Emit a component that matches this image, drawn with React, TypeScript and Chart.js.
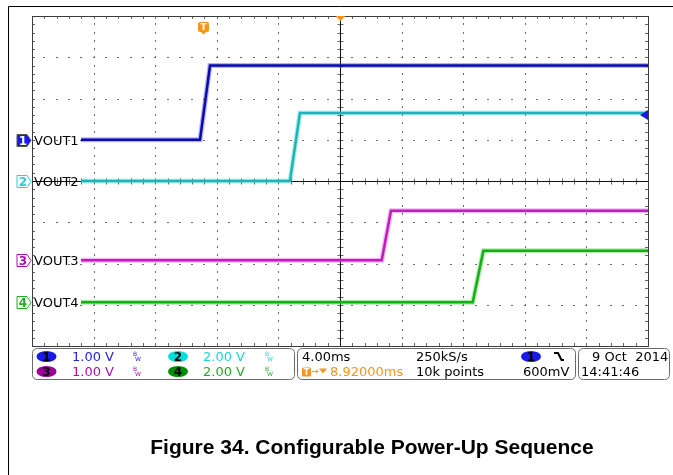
import React, { useEffect, useRef } from "react";
import { Chart, registerables } from "chart.js";

Chart.register(...registerables);

// ---- Data (time in ms, voltage in V) ----
const channelNames = ["VOUT1", "VOUT2", "VOUT3", "VOUT4"];
const traceColors = ["#0a0aae", "#1cb4b6", "#c01cc0", "#12b012"];
const traceHaloColors = ["rgba(40,40,200,0.35)", "rgba(40,200,200,0.35)", "rgba(210,60,210,0.35)", "rgba(40,190,40,0.35)"];
const voltsPerDiv = [1, 2, 1, 2];
const positionDiv = [5.0, 4.0, 2.08, 1.06];

const time1 = [3.18, 10.91, 11.56, 40];
const vout1 = [0, 0, 1.8, 1.8];
const time2 = [3.18, 16.75, 17.4, 40];
const vout2 = [0, 0, 3.3, 3.3];
const time3 = [3.18, 22.71, 23.31, 40];
const vout3 = [0, 0, 1.2, 1.2];
const time4 = [3.18, 28.62, 29.31, 40];
const vout4 = [0, 0, 2.5, 2.5];

const timePerDiv = 4; // ms/div
const divisionsX = 10;
const divisionsY = 8;
const triggerTimeMs = 11.08;
const triggerLevelV = 0.6;

const scaleLabels = ["1.00 V", "2.00 V", "1.00 V", "2.00 V"];
const badgeColors = ["#1a1ae6", "#00dede", "#9a009a", "#008c00"];
const scaleTextColors = ["#2323dd", "#1ed4d4", "#aa10aa", "#22ac22"];
const horizText = ["4.00ms", "250kS/s", "10k points", "600mV"];
const triggerDelayText = "8.92000ms";
const dateText = ["9 Oct  2014", "14:41:46"];
const titleText = "Figure 34. Configurable Power-Up Sequence";

const series = [
  { t: time1, v: vout1 },
  { t: time2, v: vout2 },
  { t: time3, v: vout3 },
  { t: time4, v: vout4 },
];

const FONT = '"DejaVu Sans", sans-serif';

function roundRect(ctx: CanvasRenderingContext2D, x: number, y: number, w: number, h: number, r: number) {
  ctx.beginPath();
  ctx.moveTo(x + r, y);
  ctx.lineTo(x + w - r, y);
  ctx.quadraticCurveTo(x + w, y, x + w, y + r);
  ctx.lineTo(x + w, y + h - r);
  ctx.quadraticCurveTo(x + w, y + h, x + w - r, y + h);
  ctx.lineTo(x + r, y + h);
  ctx.quadraticCurveTo(x, y + h, x, y + h - r);
  ctx.lineTo(x, y + r);
  ctx.quadraticCurveTo(x, y, x + r, y);
  ctx.closePath();
}

const graticule = {
  id: "graticule",
  beforeDatasetsDraw(chart: any) {
    const { ctx, chartArea: a, scales } = chart;
    const x = scales.x;
    const y = scales.y;
    ctx.save();
    // outer page frame
    ctx.strokeStyle = "#000";
    ctx.lineWidth = 1;
    ctx.beginPath();
    ctx.moveTo(8.5, 475);
    ctx.lineTo(8.5, 6.5);
    ctx.lineTo(673, 6.5);
    ctx.stroke();

    // dotted graticule
    ctx.fillStyle = "#6e6e6e";
    for (let i = 1; i < divisionsX; i++) {
      if (i === divisionsX / 2) continue;
      const px = Math.round(x.getPixelForValue(i * timePerDiv));
      for (let k = 1; k < divisionsY * 5; k++) {
        const py = Math.round(y.getPixelForValue(k / 5));
        ctx.fillRect(px, py - 1, 1, 2);
      }
    }
    for (let j = 1; j < divisionsY; j++) {
      if (j === divisionsY / 2) continue;
      const py = Math.round(y.getPixelForValue(j));
      for (let k = 1; k < divisionsX * 5; k++) {
        const px = Math.round(x.getPixelForValue((k * timePerDiv) / 5));
        ctx.fillRect(px - 1, py, 2, 1);
      }
    }

    // center crosshair ticks
    const cx = Math.round(x.getPixelForValue((divisionsX / 2) * timePerDiv)) + 0.5;
    const cy = Math.round(y.getPixelForValue(divisionsY / 2)) + 0.5;
    ctx.strokeStyle = "#666";
    ctx.beginPath();
    for (let k = 1; k < divisionsX * 5; k++) {
      const px = Math.round(x.getPixelForValue((k * timePerDiv) / 5)) + 0.5;
      ctx.moveTo(px, cy - 3);
      ctx.lineTo(px, cy + 3);
      ctx.moveTo(px, a.top);
      ctx.lineTo(px, a.top + 3);
      ctx.moveTo(px, a.bottom);
      ctx.lineTo(px, a.bottom - 3);
    }
    for (let k = 1; k < divisionsY * 5; k++) {
      const py = Math.round(y.getPixelForValue(k / 5)) + 0.5;
      ctx.moveTo(cx - 3, py);
      ctx.lineTo(cx + 3, py);
      ctx.moveTo(a.left, py);
      ctx.lineTo(a.left + 3, py);
      ctx.moveTo(a.right, py);
      ctx.lineTo(a.right - 3, py);
    }
    ctx.stroke();

    // crosshair lines
    ctx.strokeStyle = "#111";
    ctx.beginPath();
    ctx.moveTo(cx, a.top);
    ctx.lineTo(cx, a.bottom);
    ctx.moveTo(a.left, cy);
    ctx.lineTo(a.right, cy);
    ctx.stroke();

    // border
    ctx.strokeStyle = "#3c3c3c";
    ctx.strokeRect(Math.round(a.left) + 0.5, Math.round(a.top) + 0.5, Math.round(a.right - a.left), Math.round(a.bottom - a.top));
    ctx.restore();
  },
  afterDatasetsDraw(chart: any) {
    const { ctx, chartArea: a, scales } = chart;
    const x = scales.x;
    const y = scales.y;
    ctx.save();

    // channel markers and labels
    for (let i = 0; i < channelNames.length; i++) {
      const cy = Math.round(y.getPixelForValue(positionDiv[i])) + 0.5;
      ctx.beginPath();
      ctx.moveTo(17, cy - 6);
      ctx.lineTo(27, cy - 6);
      ctx.lineTo(31, cy);
      ctx.lineTo(27, cy + 6);
      ctx.lineTo(17, cy + 6);
      ctx.closePath();
      ctx.lineWidth = 1;
      if (i === 0) {
        ctx.fillStyle = badgeColors[0];
        ctx.fill();
        ctx.strokeStyle = "#555";
        ctx.stroke();
      } else {
        ctx.fillStyle = "#fff";
        ctx.fill();
        ctx.strokeStyle = scaleTextColors[i];
        ctx.stroke();
      }
      ctx.font = `bold 12px ${FONT}`;
      ctx.textAlign = "center";
      ctx.textBaseline = "middle";
      ctx.fillStyle = i === 0 ? "#fff" : scaleTextColors[i];
      ctx.fillText(String(i + 1), 23, cy + 1);
      ctx.font = `13px ${FONT}`;
      ctx.textAlign = "left";
      ctx.fillStyle = "#000";
      ctx.fillText(channelNames[i], 34, cy + 1);
    }

    // trigger position marker
    const tx = Math.round(x.getPixelForValue(triggerTimeMs));
    ctx.fillStyle = "#f7941d";
    roundRect(ctx, tx - 5, 22, 11, 10, 2);
    ctx.fill();
    ctx.beginPath();
    ctx.moveTo(tx - 2, 32);
    ctx.lineTo(tx + 3, 32);
    ctx.lineTo(tx + 0.5, 34.5);
    ctx.closePath();
    ctx.fill();
    ctx.fillStyle = "#fff";
    ctx.font = `bold 9px ${FONT}`;
    ctx.textAlign = "center";
    ctx.textBaseline = "middle";
    ctx.fillText("T", tx + 0.5, 27.5);

    // top center triangle
    const cxp = x.getPixelForValue((divisionsX / 2) * timePerDiv);
    ctx.fillStyle = "#f7941d";
    ctx.beginPath();
    ctx.moveTo(cxp - 4.5, a.top);
    ctx.lineTo(cxp + 5.5, a.top);
    ctx.lineTo(cxp + 0.5, a.top + 5);
    ctx.closePath();
    ctx.fill();

    // trigger level arrow on right edge
    const ly = y.getPixelForValue(positionDiv[0] + triggerLevelV / voltsPerDiv[0]);
    ctx.fillStyle = badgeColors[0];
    ctx.beginPath();
    ctx.moveTo(a.right, ly - 5);
    ctx.lineTo(a.right - 8, ly);
    ctx.lineTo(a.right, ly + 5);
    ctx.closePath();
    ctx.fill();

    // ---- bottom info panel ----
    ctx.strokeStyle = "#6a6a6a";
    ctx.lineWidth = 1;
    roundRect(ctx, 32.5, 348.5, 262, 31, 5);
    ctx.stroke();
    roundRect(ctx, 297.5, 348.5, 278, 31, 5);
    ctx.stroke();
    roundRect(ctx, 578.5, 348.5, 91, 31, 5);
    ctx.stroke();

    const rowY = [356.5, 371.5];
    const colBadge = [46.5, 178];
    const colText = [72, 203];
    const colBw = [133, 265];
    for (let i = 0; i < 4; i++) {
      const r = Math.floor(i / 2);
      const c = i % 2;
      const by = rowY[r];
      ctx.fillStyle = badgeColors[i];
      ctx.beginPath();
      ctx.ellipse(colBadge[c], by, 10, 5.5, 0, 0, Math.PI * 2);
      ctx.fill();
      ctx.fillStyle = "#000";
      ctx.font = `bold 12px ${FONT}`;
      ctx.textAlign = "center";
      ctx.textBaseline = "middle";
      ctx.fillText(String(i + 1), colBadge[c], by + 1);
      ctx.textAlign = "left";
      ctx.font = `13px ${FONT}`;
      ctx.fillStyle = scaleTextColors[i];
      ctx.fillText(scaleLabels[i], colText[c], by + 1);
      ctx.font = `6px ${FONT}`;
      ctx.fillText("B", colBw[c], by - 2);
      ctx.fillText("W", colBw[c] + 2, by + 3);
    }

    // middle box
    ctx.font = `13px ${FONT}`;
    ctx.textAlign = "left";
    ctx.textBaseline = "middle";
    ctx.fillStyle = "#000";
    ctx.fillText(horizText[0], 302, rowY[0] + 1);
    ctx.fillText(horizText[1], 416, rowY[0] + 1);
    ctx.fillText(horizText[2], 416, rowY[1] + 1);
    ctx.fillText(horizText[3], 523, rowY[1] + 1);
    // trigger source badge
    ctx.fillStyle = badgeColors[0];
    ctx.beginPath();
    ctx.ellipse(531, rowY[0], 10, 5.5, 0, 0, Math.PI * 2);
    ctx.fill();
    ctx.fillStyle = "#000";
    ctx.font = `bold 12px ${FONT}`;
    ctx.textAlign = "center";
    ctx.fillText("1", 531, rowY[0] + 1);
    // falling slope glyph
    ctx.strokeStyle = "#000";
    ctx.lineWidth = 2;
    ctx.beginPath();
    ctx.moveTo(554, 353);
    ctx.lineTo(558, 353);
    ctx.lineTo(561.5, 360);
    ctx.lineTo(564, 360);
    ctx.stroke();
    // trigger delay
    ctx.fillStyle = "#f7941d";
    roundRect(ctx, 302, 367.5, 9, 9, 1.5);
    ctx.fill();
    ctx.fillStyle = "#fff";
    ctx.font = `bold 8px ${FONT}`;
    ctx.fillText("T", 306.5, 372.5);
    ctx.strokeStyle = "#f7941d";
    ctx.lineWidth = 1;
    ctx.beginPath();
    ctx.moveTo(312, 371.5);
    ctx.lineTo(318, 371.5);
    ctx.moveTo(316, 369.5);
    ctx.lineTo(318, 371.5);
    ctx.lineTo(316, 373.5);
    ctx.stroke();
    ctx.fillStyle = "#f7941d";
    ctx.beginPath();
    ctx.moveTo(319, 368.5);
    ctx.lineTo(327, 368.5);
    ctx.lineTo(323, 373.5);
    ctx.closePath();
    ctx.fill();
    ctx.font = `13px ${FONT}`;
    ctx.textAlign = "left";
    ctx.fillText(triggerDelayText, 330, rowY[1] + 1);

    // date box
    ctx.fillStyle = "#000";
    ctx.fillText(dateText[0], 592, rowY[0] + 1);
    ctx.fillText(dateText[1], 581, rowY[1] + 1);

    // title
    ctx.font = `bold 21px "Liberation Sans", Arial, sans-serif`;
    ctx.textAlign = "center";
    ctx.textBaseline = "alphabetic";
    ctx.fillText(titleText, 372, 454);

    ctx.restore();
  },
};

export default function App() {
  const canvasRef = useRef<HTMLCanvasElement | null>(null);

  useEffect(() => {
    if (!canvasRef.current) return;
    const toPoints = (i: number) =>
      series[i].t.map((t, k) => ({ x: t, y: positionDiv[i] + series[i].v[k] / voltsPerDiv[i] }));
    const halos = series.map((_, i) => ({
      label: channelNames[i] + " band",
      data: toPoints(i),
      borderColor: traceHaloColors[i],
      borderWidth: 5,
      pointRadius: 0,
      tension: 0,
      fill: false,
      order: 2,
    }));
    const cores = series.map((_, i) => ({
      label: channelNames[i],
      data: toPoints(i),
      borderColor: traceColors[i],
      backgroundColor: traceColors[i],
      borderWidth: 2.5,
      pointRadius: 0,
      tension: 0,
      fill: false,
      order: 1,
    }));
    const chart = new Chart(canvasRef.current, {
      type: "line",
      data: { datasets: [...halos, ...cores] },
      options: {
        animation: false,
        responsive: false,
        devicePixelRatio: 1,
        layout: { padding: { left: 32, top: 16, right: 25, bottom: 129 } },
        plugins: { legend: { display: false }, tooltip: { enabled: false } },
        scales: {
          x: { type: "linear", min: 0, max: divisionsX * timePerDiv, display: false },
          y: { type: "linear", min: 0, max: divisionsY, display: false },
        },
      },
      plugins: [graticule],
    });
    return () => chart.destroy();
  }, []);

  return (
    <div style={{ position: "fixed", left: 0, top: 0, width: 673, height: 475, background: "#fff" }}>
      <canvas ref={canvasRef} width={673} height={475} style={{ display: "block" }} />
    </div>
  );
}
